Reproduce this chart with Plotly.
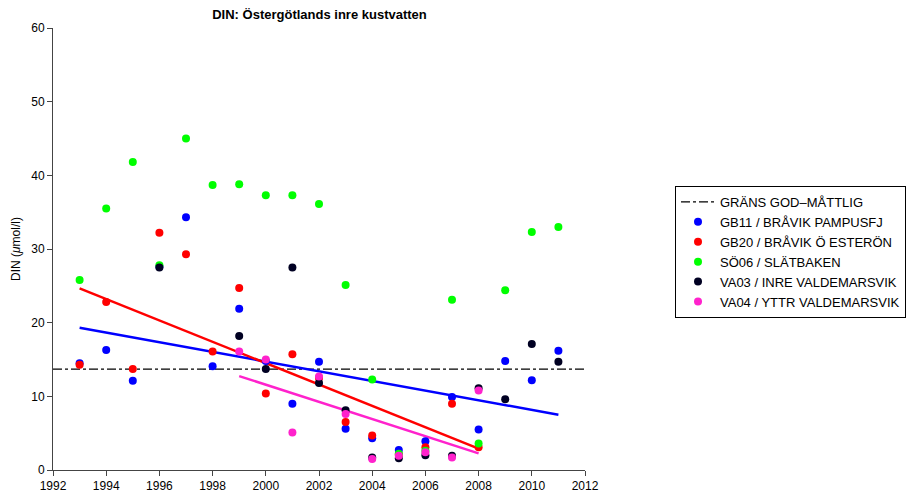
import plotly.graph_objects as go

# GB11 / BRÅVIK PAMPUSFJ (blue)
gb11_years = [1993, 1994, 1995, 1996, 1997, 1998, 1999, 2000, 2001, 2002, 2003, 2004, 2005, 2006, 2007, 2008, 2009, 2010, 2011]
gb11_vals = [14.5, 16.3, 12.1, 27.6, 34.3, 14.1, 21.9, 14.8, 9.0, 14.7, 5.6, 4.3, 2.7, 3.9, 9.9, 5.5, 14.8, 12.2, 16.2]

# GB20 / BRÅVIK Ö ESTERÖN (red)
gb20_years = [1993, 1994, 1995, 1996, 1997, 1998, 1999, 2000, 2001, 2002, 2003, 2004, 2005, 2006, 2007, 2008]
gb20_vals = [14.3, 22.8, 13.7, 32.2, 29.3, 16.1, 24.7, 10.4, 15.7, 12.5, 6.5, 4.7, 2.1, 3.1, 9.0, 3.1]

# SÖ06 / SLÄTBAKEN (green)
so06_years = [1993, 1994, 1995, 1996, 1997, 1998, 1999, 2000, 2001, 2002, 2003, 2004, 2005, 2006, 2007, 2008, 2009, 2010, 2011]
so06_vals = [25.8, 35.5, 41.8, 27.8, 45.0, 38.7, 38.8, 37.3, 37.3, 36.1, 25.1, 12.3, 2.2, 2.6, 23.1, 3.6, 24.4, 32.3, 33.0]

# VA03 / INRE VALDEMARSVIK (black)
va03_years = [1996, 1999, 2000, 2001, 2002, 2003, 2004, 2005, 2006, 2007, 2008, 2009, 2010, 2011]
va03_vals = [27.5, 18.2, 13.7, 27.5, 11.8, 8.1, 1.7, 1.6, 2.0, 1.95, 11.1, 9.6, 17.1, 14.7]

# VA04 / YTTR VALDEMARSVIK (pink)
va04_years = [1999, 2000, 2001, 2002, 2003, 2004, 2005, 2006, 2007, 2008]
va04_vals = [16.1, 15.0, 5.1, 12.7, 7.6, 1.5, 1.95, 2.4, 1.7, 10.8]

# Trend lines (end points)
trend_gb11_years = [1993, 2011]
trend_gb11_vals = [19.3, 7.5]
trend_gb20_years = [1993, 2008]
trend_gb20_vals = [24.65, 2.9]
trend_va04_years = [1999, 2008]
trend_va04_vals = [12.75, 2.25]

# Boundary good-moderate
limit_years = [1992, 2012]
limit_vals = [13.7, 13.7]

x_ticks = list(range(1992, 2013, 2))
y_ticks = list(range(0, 61, 10))

series = [
    ("GB11 / BRÅVIK PAMPUSFJ", gb11_years, gb11_vals, "#0000FF"),
    ("GB20 / BRÅVIK Ö ESTERÖN", gb20_years, gb20_vals, "#FF0000"),
    ("SÖ06 / SLÄTBAKEN", so06_years, so06_vals, "#00FF00"),
    ("VA03 / INRE VALDEMARSVIK", va03_years, va03_vals, "#000022"),
    ("VA04 / YTTR VALDEMARSVIK", va04_years, va04_vals, "#FF22CC"),
]

fig = go.Figure()

fig.add_trace(go.Scatter(
    x=limit_years, y=limit_vals, mode="lines", name="GRÄNS GOD–MÅTTLIG",
    line=dict(color="black", width=1.2, dash="dashdot"),
))

for tx, ty, col in [(trend_gb11_years, trend_gb11_vals, "#0000FF"),
                    (trend_gb20_years, trend_gb20_vals, "#FF0000"),
                    (trend_va04_years, trend_va04_vals, "#FF22CC")]:
    fig.add_trace(go.Scatter(x=tx, y=ty, mode="lines", showlegend=False,
                             line=dict(color=col, width=2.5), hoverinfo="skip"))

for name, xs, ys, col in series:
    fig.add_trace(go.Scatter(
        x=xs, y=ys, mode="markers", name=name,
        marker=dict(color=col, size=8, line=dict(width=0)),
        cliponaxis=False,
    ))

# The page body has an 8px default margin; the figure is sized to fit within it.
fig.update_layout(
    width=909, height=490,
    autosize=False,
    paper_bgcolor="white", plot_bgcolor="white",
    margin=dict(l=45, r=331, t=20, b=28),
    font=dict(family="Liberation Sans, Arial, sans-serif", size=12, color="black"),
    title=dict(text="<b>DIN: Östergötlands inre kustvatten</b>", x=0.3427,
               xanchor="center", y=0.987, yanchor="middle", font=dict(size=13)),
    showlegend=True,
    legend=dict(x=1.167, y=0.6425, xanchor="left", yanchor="top",
                bordercolor="black", borderwidth=1, bgcolor="white",
                font=dict(size=13), tracegroupgap=0, itemwidth=34),
)

fig.update_xaxes(range=[1992, 2012], tickmode="array", tickvals=x_ticks,
                 ticks="outside", ticklen=5, tickcolor="#444", showgrid=False,
                 showline=True, linecolor="#444", linewidth=1, zeroline=False,
                 tickfont=dict(size=12), automargin=False)
fig.update_yaxes(range=[0, 60], tickmode="array", tickvals=y_ticks,
                 ticks="outside", ticklen=5, tickcolor="#444", showgrid=False,
                 showline=True, linecolor="#444", linewidth=1, zeroline=False,
                 title=dict(text="DIN (<i>μ</i>mol/l)", font=dict(size=12), standoff=8),
                 tickfont=dict(size=12), automargin=False)

fig.write_html("out.html", config={"displayModeBar": False, "responsive": False})
